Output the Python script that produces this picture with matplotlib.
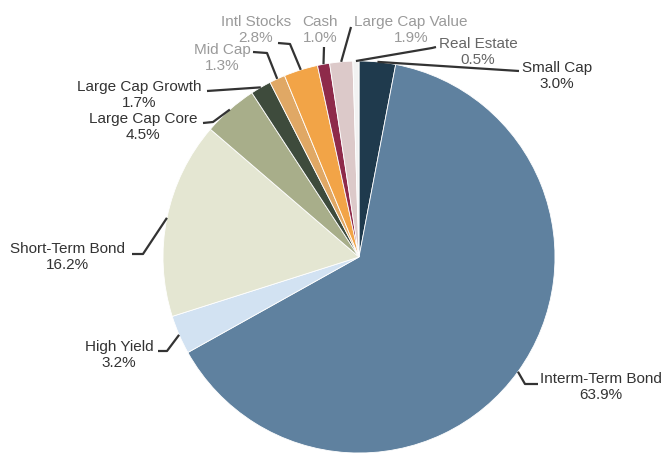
import numpy as np
import matplotlib.pyplot as plt

# Portfolio allocation, clockwise from 12 o'clock
categories = ["Small Cap", "Interm-Term Bond", "High Yield", "Short-Term Bond",
              "Large Cap Core", "Large Cap Growth", "Mid Cap", "Intl Stocks",
              "Cash", "Large Cap Value", "Real Estate"]
weights = [3.0, 63.9, 3.2, 16.2, 4.5, 1.7, 1.3, 2.8, 1.0, 1.9, 0.5]

colors = ["#1f3a4d", "#5f819f", "#d2e2f2", "#e4e6d2", "#a8ae8a", "#3e4b3c",
          "#e0a865", "#f2a447", "#8e2a4a", "#dcc9c9", "#f2f2f2"]
text_colors = ["#333333", "#333333", "#333333", "#333333", "#333333", "#333333",
               "#9a9a9a", "#9a9a9a", "#9a9a9a", "#9a9a9a", "#666666"]

# label block centres and leader elbows, in pixel coords (y down)
label_pos = [(557, 76), (601, 387), (119, 355), (67, 257), (143, 127), (139, 95),
             (222, 58), (256, 30), (320, 30), (411, 30), (478, 52)]
leader_pts = [[(519, 71)],
              [(525, 384), (538, 384)],
              [(167, 351), (158, 351)],
              [(143, 254), (132, 254)],
              [(213, 122), (203, 123)],
              [(207, 91)],
              [(267, 53), (253, 52)],
              [(290, 44), (278, 43)],
              [(324, 47)],
              [(351, 27)],
              [(432, 48), (436, 47)]]

W, H = 666, 453
cx, cy, R = 359, 257, 196

fig = plt.figure(figsize=(W / 100, H / 100), dpi=100)
ax = fig.add_axes([0, 0, 1, 1])
ax.set_xlim(0, W)
ax.set_ylim(0, H)
ax.axis("off")

wedges, _ = ax.pie(weights, colors=colors, startangle=90, counterclock=False,
                   center=(cx, H - cy), radius=R,
                   wedgeprops=dict(edgecolor="white", linewidth=0.6))
ax.set_xlim(0, W)
ax.set_ylim(0, H)

for w, name, val, tc, (lx, ly), pts in zip(wedges, categories, weights,
                                            text_colors, label_pos, leader_pts):
    mid = np.deg2rad((w.theta1 + w.theta2) / 2)
    x0 = cx + R * np.cos(mid)
    y0 = (H - cy) + R * np.sin(mid)
    xs = [x0] + [p[0] for p in pts]
    ys = [y0] + [H - p[1] for p in pts]
    ax.plot(xs, ys, color="#333333", lw=1.6, solid_capstyle="butt")
    ax.text(lx, H - ly, f"{name}\n{val:.1f}%", ha="center", va="center",
            fontsize=11, family="Liberation Sans", color=tc, linespacing=1.15)

fig.savefig("out.png", dpi=100)
